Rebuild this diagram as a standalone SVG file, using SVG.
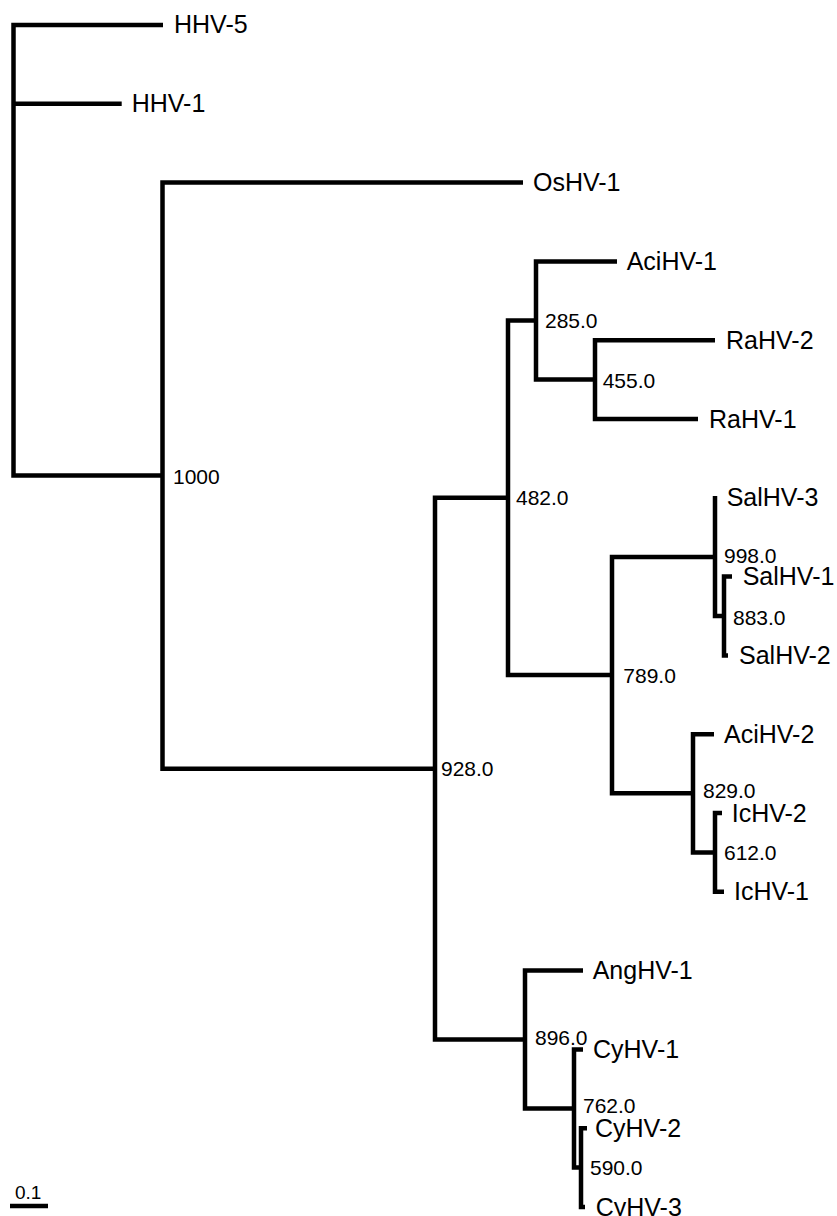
<svg xmlns="http://www.w3.org/2000/svg" width="837" height="1216" viewBox="0 0 837 1216">
<style>
.br{fill:none;stroke:#000;stroke-width:4.5;stroke-linejoin:miter;stroke-linecap:butt}
.leaf{font-family:"Liberation Sans",Arial,sans-serif;font-size:25px;fill:#000}
.bs{font-family:"Liberation Sans",Arial,sans-serif;font-size:21px;fill:#000}
.sc{font-family:"Liberation Sans",Arial,sans-serif;font-size:19px;fill:#000}
</style>
<rect width="837" height="1216" fill="#fff"/>
<g id="connectors">
<path class="br" d="M163 25 H13.5 V475.6 H162.5"/>
<path class="br" d="M121.7 103.8 H13.5"/>
<path class="br" d="M523 182.6 H162.5 V768.7 H435"/>
<path class="br" d="M508 497.8 H435 V1039.5 H525"/>
<path class="br" d="M536 320.5 H508 V675.1 H612"/>
<path class="br" d="M617 261.4 H536 V379.6 H595"/>
<path class="br" d="M715 340.2 H595 V419 H698"/>
<path class="br" d="M715 556.9 H612 V793.3 H693"/>
<path class="br" d="M715 496 V616 H724"/>
<path class="br" d="M732 576.6 H724 V655.4 H728"/>
<path class="br" d="M714 734.2 H693 V852.4 H715"/>
<path class="br" d="M722 813 H715 V891.8 H724"/>
<path class="br" d="M583 970.6 H525 V1108.5 H574"/>
<path class="br" d="M583 1049.4 H574 V1167.6 H581"/>
<path class="br" d="M587 1128.2 H581 V1207 H585"/>
</g>
<g id="leaf-HHV-5"><text class="leaf" x="174" y="33">HHV-5</text></g>
<g id="leaf-HHV-1"><text class="leaf" x="131.7" y="112.3">HHV-1</text></g>
<g id="leaf-OsHV-1"><text class="leaf" x="533" y="191.1">OsHV-1</text></g>
<g id="leaf-AciHV-1"><text class="leaf" x="626.7" y="269.9">AciHV-1</text></g>
<g id="leaf-RaHV-2"><text class="leaf" x="726" y="348.7">RaHV-2</text></g>
<g id="leaf-RaHV-1"><text class="leaf" x="709" y="427.5">RaHV-1</text></g>
<g id="leaf-SalHV-3"><text class="leaf" x="726.7" y="506.3">SalHV-3</text></g>
<g id="leaf-SalHV-1"><text class="leaf" x="742.7" y="585.1">SalHV-1</text></g>
<g id="leaf-SalHV-2"><text class="leaf" x="739" y="663.9">SalHV-2</text></g>
<g id="leaf-AciHV-2"><text class="leaf" x="724" y="742.7">AciHV-2</text></g>
<g id="leaf-IcHV-2"><text class="leaf" x="731.7" y="821.5">IcHV-2</text></g>
<g id="leaf-IcHV-1"><text class="leaf" x="734" y="900.3">IcHV-1</text></g>
<g id="leaf-AngHV-1"><text class="leaf" x="592.7" y="979.1">AngHV-1</text></g>
<g id="leaf-CyHV-1"><text class="leaf" x="593" y="1057.9">CyHV-1</text></g>
<g id="leaf-CyHV-2"><text class="leaf" x="595" y="1136.7">CyHV-2</text></g>
<g id="leaf-CyHV-3"><text class="leaf" x="595.7" y="1215.5">CyHV-3</text></g>
<g id="node-1000"><text class="bs" x="173" y="483.5">1000</text></g>
<g id="node-928"><text class="bs" x="441" y="776.2">928.0</text></g>
<g id="node-482"><text class="bs" x="516" y="505.3">482.0</text></g>
<g id="node-285"><text class="bs" x="545" y="328">285.0</text></g>
<g id="node-455"><text class="bs" x="602.7" y="387.5">455.0</text></g>
<g id="node-789"><text class="bs" x="623.3" y="683">789.0</text></g>
<g id="node-998"><text class="bs" x="724" y="563">998.0</text></g>
<g id="node-883"><text class="bs" x="733" y="624.5">883.0</text></g>
<g id="node-829"><text class="bs" x="703" y="798">829.0</text></g>
<g id="node-612"><text class="bs" x="724" y="860">612.0</text></g>
<g id="node-896"><text class="bs" x="535" y="1045">896.0</text></g>
<g id="node-762"><text class="bs" x="583" y="1113">762.0</text></g>
<g id="node-590"><text class="bs" x="590" y="1175">590.0</text></g>
<g id="scale-bar">
<text class="sc" x="15" y="1199">0.1</text>
<path class="br" d="M10 1206 H48"/>
</g>
</svg>
